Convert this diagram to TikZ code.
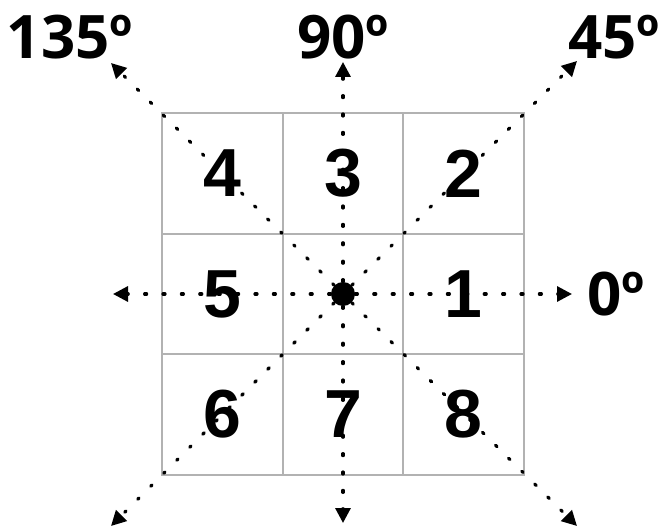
\documentclass[tikz,border=0pt]{standalone}
\usepackage{fontspec}
\newfontfamily\labelfont{Open Sans}
\newfontfamily\cellfont{Liberation Sans}
\usetikzlibrary{arrows.meta}

\begin{document}
\begin{tikzpicture}[
    x=0.5pt, y=-0.5pt,
    >={Triangle[length=7.5pt,width=7.5pt]},
    cellbox/.style={draw=black!30, line width=0.75pt, minimum size=60.5pt, inner sep=0pt,
        font=\cellfont\bfseries\fontsize{34}{34}\selectfont},
    angle/.style={font=\labelfont\bfseries\fontsize{30}{30}\selectfont, inner sep=0pt},
    dir/.style={->, line width=1.6pt, dash pattern=on 1pt off 8.2pt, line cap=round}
]
\useasboundingbox (0,0) rectangle (659,529);

\node[cellbox] (c4) at (222.5,173.5) {4};
\node[cellbox] (c3) at (343,173.5) {3};
\node[cellbox] (c2) at (463.5,173.5) {2};
\node[cellbox] (c5) at (222.5,294) {5};
\node[cellbox] (cc) at (343,294) {};
\node[cellbox] (c1) at (463.5,294) {1};
\node[cellbox] (c6) at (222.5,414.5) {6};
\node[cellbox] (c7) at (343,414.5) {7};
\node[cellbox] (c8) at (463.5,414.5) {8};

\node[circle, fill=black, minimum size=12pt, inner sep=0pt] (c) at (343,294) {};

\coordinate (e) at (572,294);
\coordinate (ne) at (577,61);
\coordinate (n) at (343,62);
\coordinate (nw) at (111,63);
\coordinate (w) at (113,294);
\coordinate (sw) at (111,526);
\coordinate (s) at (343,523);
\coordinate (se) at (577,526);

\draw[dir] (c)--(e);
\draw[dir] (c)--(ne);
\draw[dir] (c)--(n);
\draw[dir] (c)--(nw);
\draw[dir] (c)--(w);
\draw[dir] (c)--(sw);
\draw[dir] (c)--(s);
\draw[dir] (c)--(se);

\node[angle] (a0) at (616,294) {0º};
\node[angle] (a45) at (614,37) {45º};
\node[angle] (a90) at (343,37) {90º};
\node[angle] (a135) at (70,37) {135º};
\end{tikzpicture}
\end{document}
